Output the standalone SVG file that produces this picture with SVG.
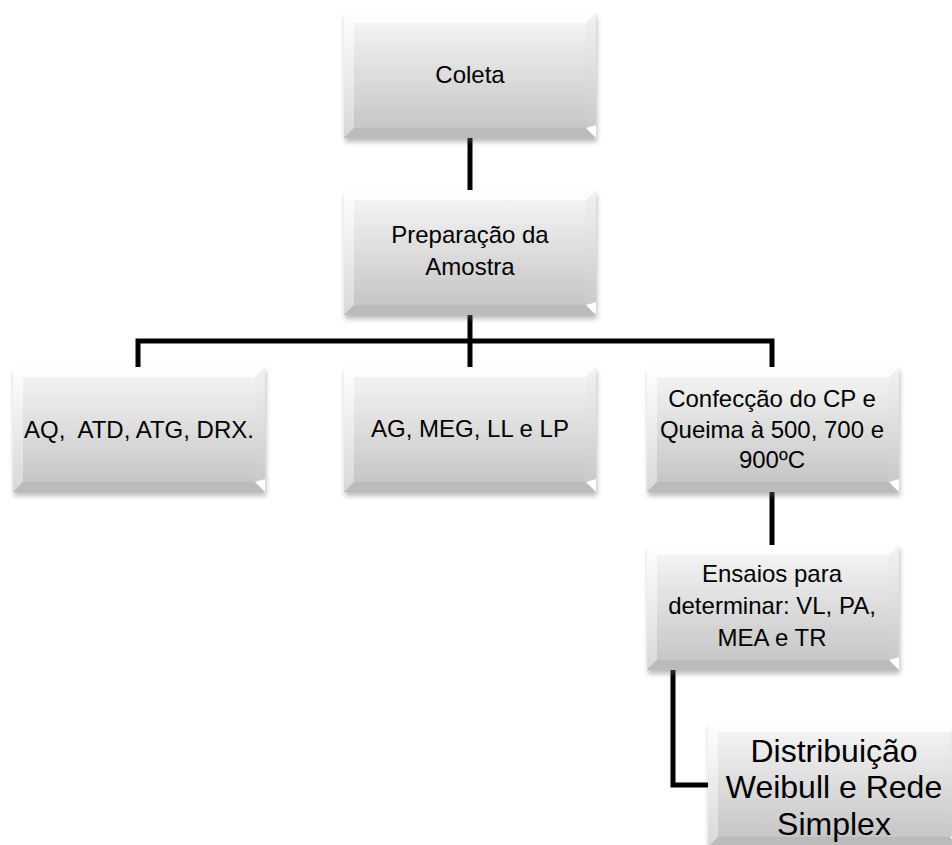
<svg xmlns="http://www.w3.org/2000/svg" width="952" height="845" viewBox="0 0 952 845">
<style>
.t{font-family:"Liberation Sans",Arial,sans-serif;font-size:24px;fill:#000;text-anchor:middle}
.big{font-size:32px}
.conn{fill:none;stroke:#000;stroke-width:5;stroke-linejoin:miter;stroke-linecap:butt}
</style>
<defs>
<linearGradient id="face" x1="0" y1="0" x2="0" y2="1">
<stop offset="0" stop-color="#f7f7f7"/>
<stop offset="1" stop-color="#c2c2c2"/>
</linearGradient>
<linearGradient id="side" x1="0" y1="0" x2="0" y2="1">
<stop offset="0" stop-color="#ffffff"/>
<stop offset="1" stop-color="#d8d8d8"/>
</linearGradient>
<linearGradient id="rside" x1="0" y1="0" x2="0" y2="1">
<stop offset="0" stop-color="#f2f2f2"/>
<stop offset="1" stop-color="#c6c6c6"/>
</linearGradient>
<filter id="blur" x="-10%" y="-10%" width="120%" height="130%">
<feGaussianBlur stdDeviation="2.5"/>
</filter>
<g id="box">
<rect x="1" y="4" width="252" height="125" fill="#6b6b6b" opacity="0.45" filter="url(#blur)"/>
<rect width="252" height="125" fill="url(#face)"/>
<polygon points="0,0 252,0 242,10 10,10" fill="#fdfdfd"/>
<polygon points="0,0 10,10 10,115 0,125" fill="url(#side)"/>
<polygon points="252,0 252,125 242,115 242,10" fill="url(#rside)"/>
<polygon points="0,125 252,125 242,115 10,115" fill="#bbbbbb"/>
<polygon points="252,125 242,115 252,112" fill="#ffffff"/>
</g>
</defs>
<g id="connectors">
<path class="conn" d="M470 137V190"/>
<path class="conn" d="M470 315V367"/>
<path class="conn" d="M138 367V341H772V367"/>
<path class="conn" d="M772 492V545"/>
<path class="conn" d="M673 670V785H708"/>
</g>
<g id="coleta">
<use href="#box" x="344" y="13"/>
<text class="t" x="470" y="83">Coleta</text>
</g>
<g id="preparacao">
<use href="#box" x="344" y="190"/>
<text class="t" x="470" y="243">Preparação da</text>
<text class="t" x="470" y="275">Amostra</text>
</g>
<g id="aq">
<use href="#box" x="13" y="367"/>
<text class="t" x="139" y="438" xml:space="preserve">AQ,  ATD, ATG, DRX.</text>
</g>
<g id="ag">
<use href="#box" x="344" y="367"/>
<text class="t" x="470" y="437">AG, MEG, LL e LP</text>
</g>
<g id="confeccao">
<use href="#box" x="647" y="367"/>
<text class="t" x="772" y="407">Confecção do CP e</text>
<text class="t" x="772" y="438">Queima à 500, 700 e</text>
<text class="t" x="772" y="468">900ºC</text>
</g>
<g id="ensaios">
<use href="#box" x="647" y="545"/>
<text class="t" x="772" y="582">Ensaios para</text>
<text class="t" x="772" y="614">determinar: VL, PA,</text>
<text class="t" x="772" y="646">MEA e TR</text>
</g>
<g id="distribuicao">
<use href="#box" x="708" y="722"/>
<text class="t big" x="834" y="762">Distribuição</text>
<text class="t big" x="834" y="798">Weibull e Rede</text>
<text class="t big" x="834" y="835">Simplex</text>
</g>
</svg>
